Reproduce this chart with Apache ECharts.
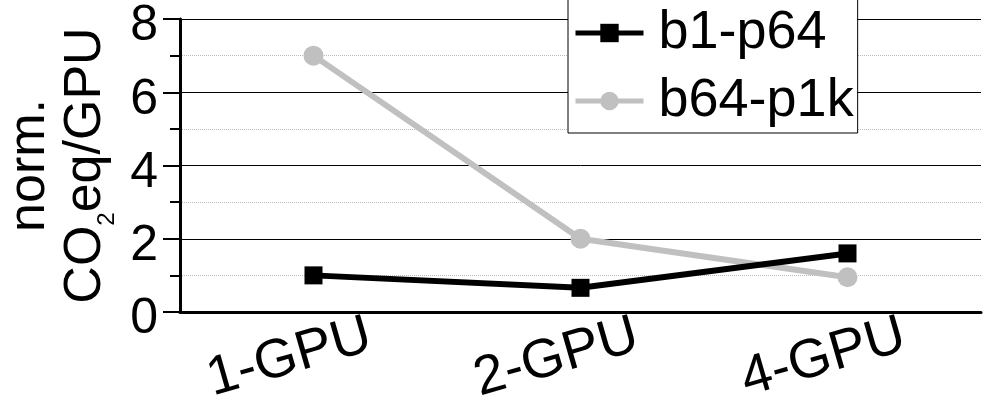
<!DOCTYPE html>
<html>
<head>
<meta charset="utf-8">
<script src="https://cdn.jsdelivr.net/npm/echarts@6/dist/echarts.min.js"></script>
<style>
    html, body { margin: 0; padding: 0; background: #fff; }
    #chart { width: 997px; height: 410px; }
</style>
</head>
<body>
<div id="chart"></div>
<script>
    // data
    const categories = ['1-GPU', '2-GPU', '4-GPU'];
    const b1p64 = [1.0, 0.66, 1.6];
    const b64p1k = [7.0, 2.0, 0.95];
    const yMin = 0, yMax = 8, yStep = 2;

    const FONT = 'Liberation Sans';
    const GREY = '#c0c0c0';

    let myChart = echarts.init(document.getElementById('chart'));
    myChart.setOption({
        animation: false,
        textStyle: { fontFamily: FONT, color: '#000' },
        grid: { left: 180, right: 16, top: 19, bottom: 98, outerBoundsMode: 'none' },
        legend: {
            left: 568,
            top: -2,
            orient: 'vertical',
            data: ['b1-p64', 'b64-p1k'],
            backgroundColor: '#fff',
            borderColor: '#000',
            borderWidth: 1,
            padding: [8, 4, 5, 5],
            itemGap: 14,
            itemWidth: 68,
            itemHeight: 23,
            lineStyle: { width: 5 },
            textStyle: { fontSize: 54, fontFamily: FONT, color: '#000', padding: [0, 0, 0, 10] }
        },
        xAxis: [
            {
                type: 'category',
                data: categories,
                axisLine: { lineStyle: { color: '#000', width: 3 } },
                axisTick: { length: 8, lineStyle: { color: '#000', width: 1.5 } },
                axisLabel: {
                    interval: 0,
                    rotate: 16,
                    align: 'center',
                    verticalAlign: 'middle',
                    margin: 39,
                    padding: [0, 50, 0, 0],
                    fontSize: 55,
                    fontFamily: FONT,
                    color: '#000'
                },
                splitLine: { show: false }
            },
            {
                // center ticks under each category
                type: 'category',
                data: categories,
                position: 'bottom',
                axisLine: { show: false },
                axisTick: { alignWithLabel: true, length: 16, lineStyle: { color: '#000', width: 1.5 } },
                axisLabel: { show: false },
                splitLine: { show: false }
            }
        ],
        yAxis: {
            type: 'value',
            min: yMin,
            max: yMax,
            interval: yStep,
            name: '{a|norm.}\n{a|CO}{sub|2}{a|eq/GPU}',
            nameLocation: 'middle',
            nameRotate: 90,
            nameGap: 64,
            nameTextStyle: {
                fontFamily: FONT,
                color: '#000',
                rich: {
                    a: { fontSize: 52, lineHeight: 56, verticalAlign: 'top', fontFamily: FONT },
                    sub: { fontSize: 24, lineHeight: 20, verticalAlign: 'top', padding: [35, 0, 0, 0], fontFamily: FONT }
                }
            },
            axisLine: { show: true, lineStyle: { color: '#000', width: 3 } },
            axisTick: { show: true, length: 17, lineStyle: { color: '#000', width: 2 } },
            minorTick: { show: true, splitNumber: 2, length: 10, lineStyle: { color: '#000', width: 2 } },
            axisLabel: {
                color: '#000',
                margin: 22,
                formatter: '{v|{value}}',
                rich: {
                    v: { fontSize: 50, fontFamily: FONT, color: '#000', lineHeight: 50, padding: [15, 0, 0, 0] }
                }
            },
            splitLine: { show: true, lineStyle: { color: '#000', width: 1 } },
            minorSplitLine: { show: true, lineStyle: { color: '#bbb', width: 1, type: 'dotted' } }
        },
        series: [
            {
                name: 'b1-p64',
                type: 'line',
                data: b1p64,
                z: 3,
                symbol: 'rect',
                symbolSize: 18,
                showAllSymbol: true,
                color: '#000',
                lineStyle: { color: '#000', width: 6 },
                itemStyle: { color: '#000' }
            },
            {
                name: 'b64-p1k',
                type: 'line',
                data: b64p1k,
                z: 2,
                symbol: 'circle',
                symbolSize: 20,
                showAllSymbol: true,
                color: GREY,
                lineStyle: { color: GREY, width: 6 },
                itemStyle: { color: GREY }
            }
        ]
    });
</script>
</body>
</html>
